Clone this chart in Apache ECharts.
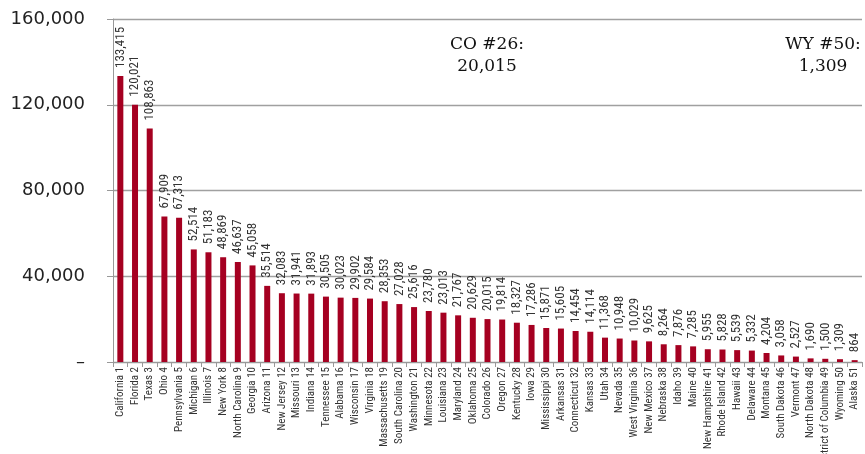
<!DOCTYPE html>
<html><head><meta charset="utf-8">
<script src="https://cdn.jsdelivr.net/npm/echarts@6/dist/echarts.min.js"></script>
<style>html,body{margin:0;padding:0;background:#fff}#c{width:865px;height:454px}</style>
</head><body><div id="c"></div>
<script>
const states = ["California","Florida","Texas","Ohio","Pennsylvania","Michigan","Illinois","New York","North Carolina","Georgia","Arizona","New Jersey","Missouri","Indiana","Tennessee","Alabama","Wisconsin","Virginia","Massachusetts","South Carolina","Washington","Minnesota","Louisiana","Maryland","Oklahoma","Colorado","Oregon","Kentucky","Iowa","Mississippi","Arkansas","Connecticut","Kansas","Utah","Nevada","West Virginia","New Mexico","Nebraska","Idaho","Maine","New Hampshire","Rhode Island","Hawaii","Delaware","Montana","South Dakota","Vermont","North Dakota","District of Columbia","Wyoming","Alaska"];
const ranks = [1,2,3,4,5,6,7,8,9,10,11,12,13,14,15,16,17,18,19,20,21,22,23,24,25,26,27,28,29,30,31,32,33,34,35,36,37,38,39,40,41,42,43,44,45,46,47,48,49,50,51];
const values = [133415,120021,108863,67909,67313,52514,51183,48869,46637,45058,35514,32083,31941,31893,30505,30023,29902,29584,28353,27028,25616,23780,23013,21767,20629,20015,19814,18327,17286,15871,15605,14454,14114,11368,10948,10029,9625,8264,7876,7285,5955,5828,5539,5332,4204,3058,2527,1690,1500,1309,864];
const yTicks = [0,40000,80000,120000,160000];
const notes = [{text:"CO #26:\n20,015", x:487, y:34},{text:"WY #50:\n1,309", x:823, y:34}];

const categories = states.map((s,i)=>s+" "+ranks[i]);
const narrow = "'Liberation Sans Narrow','Roboto Condensed','Liberation Sans',Arial,sans-serif";
const chart = echarts.init(document.getElementById('c'));
chart.setOption({
  animation:false,
  backgroundColor:'#fff',
  grid:{left:113,right:3,top:19,bottom:92,containLabel:false,outerBoundsMode:'none'},
  xAxis:{type:'category',data:categories,
    axisLine:{show:true,lineStyle:{color:'#999',width:1}},
    axisTick:{show:true,alignWithLabel:false,length:5,lineStyle:{color:'#999'}},
    axisLabel:{rotate:90,interval:0,fontSize:11,color:'#333',fontFamily:narrow,margin:5}},
  yAxis:{type:'value',min:yTicks[0],max:yTicks[yTicks.length-1],interval:40000,
    axisLine:{show:true,lineStyle:{color:'#999',width:1}},
    axisTick:{show:true,inside:false,length:6,lineStyle:{color:'#999'}},
    splitLine:{show:true,lineStyle:{color:'#a0a0a0',width:1.3}},
    axisLabel:{fontSize:18,color:'#222',fontFamily:"'DejaVu Sans',Verdana,sans-serif",margin:28,
      formatter:v=>v===0?'–':v.toLocaleString('en-US')}},
  series:[{type:'bar',data:values,barWidth:6,
    itemStyle:{color:'#A50021'},
    label:{show:true,position:'top',rotate:90,align:'left',verticalAlign:'middle',distance:8,
      fontSize:13,color:'#333',fontFamily:narrow,
      formatter:p=>p.value.toLocaleString('en-US')}}],
  graphic: notes.map(n=>({type:'text',x:n.x,y:n.y,
    style:{text:n.text,fontFamily:"'DejaVu Serif',serif",fontSize:17,fill:'#111',align:'center',verticalAlign:'top',textAlign:'center',lineHeight:22}}))
});
</script></body></html>
